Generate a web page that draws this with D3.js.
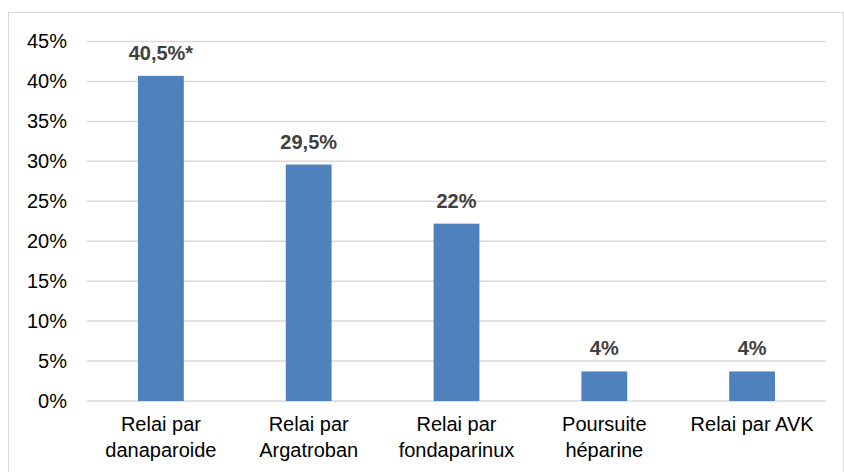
<!DOCTYPE html>
<html><head><meta charset="utf-8">
<script src="https://cdn.jsdelivr.net/npm/d3@7"></script>
<style>
body{margin:0;background:#fff;}
svg{display:block;font-family:"Liberation Sans",Arial,sans-serif;}
</style></head>
<body><svg id="c" width="844" height="472"></svg>
<script>
const categories = [["Relai par","danaparoide"],["Relai par","Argatroban"],["Relai par","fondaparinux"],["Poursuite","héparine"],["Relai par AVK"]];
const values = [40.7, 29.6, 22.2, 3.7, 3.7];
const valueLabels = ["40,5%*","29,5%","22%","4%","4%"];
const yTicks = [0,5,10,15,20,25,30,35,40,45];

(function(){
const svg = d3.select("#c");
svg.append("rect").attr("x",8.5).attr("y",12.5).attr("width",835).attr("height",470)
  .attr("fill","none").attr("stroke","#d9d9d9");

const pLeft=87, pRight=826, pTop=41.5, pBottom=401;
const x = d3.scaleBand().domain(d3.range(categories.length)).range([pLeft,pRight]).paddingInner(0.69).paddingOuter(0.345);
const y = d3.scaleLinear().domain([0,45]).range([pBottom,pTop]);

const grid = svg.append("g");
grid.selectAll("line").data(yTicks).join("line")
  .attr("x1",pLeft).attr("x2",pRight).attr("y1",d=>y(d)).attr("y2",d=>y(d))
  .attr("stroke","#d9d9d9").attr("stroke-width",1.5);

const yAxis = svg.append("g").attr("transform",`translate(${pLeft},0)`)
  .call(d3.axisLeft(y).tickValues(yTicks).tickFormat(d=>d+"%").tickSize(0).tickPadding(20));
yAxis.select(".domain").remove();
yAxis.selectAll("text").attr("font-size",20).attr("fill","#000").attr("font-family","Liberation Sans, Arial, sans-serif");

svg.append("g").selectAll("rect").data(values).join("rect")
  .attr("x",(d,i)=>x(i)).attr("width",x.bandwidth())
  .attr("y",d=>y(d)).attr("height",d=>pBottom-y(d)).attr("fill","#4f81bd");

svg.append("g").selectAll("text").data(values).join("text")
  .attr("x",(d,i)=>x(i)+x.bandwidth()/2).attr("y",d=>y(d)-16)
  .attr("text-anchor","middle").attr("font-size",20).attr("font-weight","bold").attr("fill","#404040")
  .text((d,i)=>valueLabels[i]);

const xl = svg.append("g").selectAll("text").data(categories).join("text")
  .attr("x",(d,i)=>x(i)+x.bandwidth()/2).attr("y",431)
  .attr("text-anchor","middle").attr("font-size",20).attr("fill","#000");
xl.each(function(d,i){
  const t=d3.select(this);
  d.forEach((s,j)=>t.append("tspan").attr("x",x(i)+x.bandwidth()/2).attr("dy",j?26:0).text(s));
});
})();
</script></body></html>
